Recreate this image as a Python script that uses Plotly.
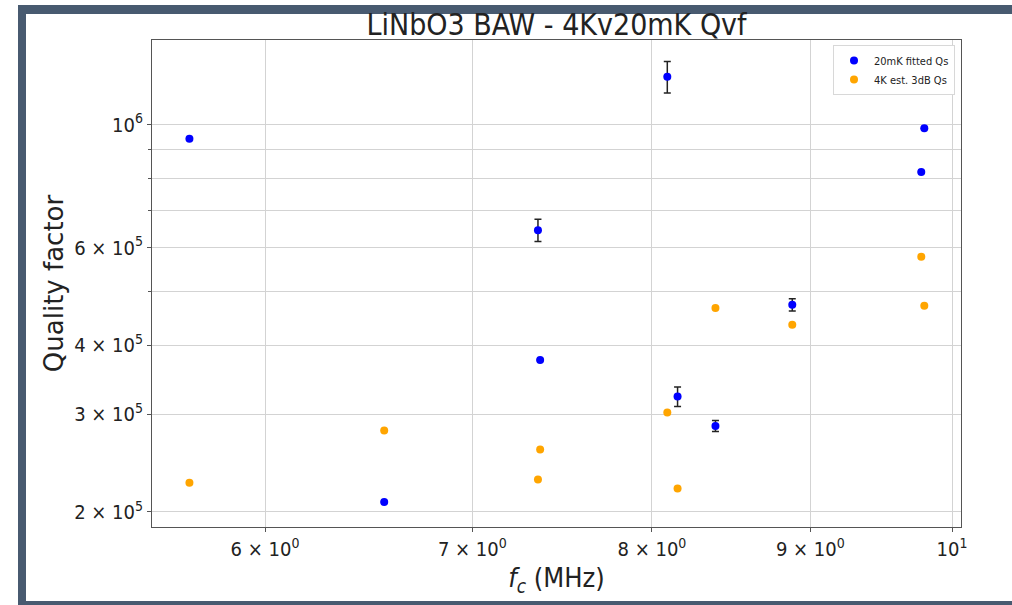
import plotly.graph_objects as go

# Resonance centre frequencies (MHz), shared by both measurement sets
freq_mhz = [5.672, 6.556, 7.350, 7.362, 8.092, 8.154, 8.387, 8.880, 9.774, 9.796]

# 20 mK fitted quality factors and their fit uncertainties (None = no bar)
q_20mk = [9.43e5, 2.085e5, 6.45e5, 3.76e5, 1.22e6, 3.23e5, 2.86e5, 4.73e5, 8.21e5, 9.85e5]
q_20mk_err = [None, None, 3.0e4, None, 8.0e4, 1.3e4, 6.5e3, 1.2e4, None, None]

# 4 K quality factors estimated from the 3 dB bandwidth
q_4k = [2.257e5, 2.807e5, 2.289e5, 2.593e5, 3.025e5, 2.205e5, 4.667e5, 4.354e5, 5.773e5, 4.711e5]

# Axis ticks
x_tickvals = [6, 7, 8, 9, 10]
x_ticktext = ["6 × 10<sup>0</sup>", "7 × 10<sup>0</sup>", "8 × 10<sup>0</sup>",
              "9 × 10<sup>0</sup>", "10<sup>1</sup>"]
y_tickvals = [2e5, 3e5, 4e5, 6e5, 1e6]
y_ticktext = ["2 × 10<sup>5</sup>", "3 × 10<sup>5</sup>", "4 × 10<sup>5</sup>",
              "6 × 10<sup>5</sup>", "10<sup>6</sup>"]
y_minor_tickvals = [5e5, 7e5, 8e5, 9e5]

W, H = 1012, 605
ML, MR, MT, MB = 152, 51, 40, 78
PW, PH = W - ML - MR, H - MT - MB

FONT = "DejaVu Sans Condensed, DejaVu Sans, sans-serif"
FONT_REG = "DejaVu Sans, sans-serif"
FRAME = "#485a70"
GRID = "#d3d3d3"

fig = go.Figure()

fig.add_trace(go.Scatter(
    x=freq_mhz, y=q_20mk, mode="markers", name="20mK fitted Qs",
    marker=dict(color="#0000ff", size=8),
    error_y=dict(type="data", array=q_20mk_err, visible=True,
                 color="#222222", thickness=1.5, width=3.5),
))
fig.add_trace(go.Scatter(
    x=freq_mhz, y=q_4k, mode="markers", name="4K est. 3dB Qs",
    marker=dict(color="#ffa500", size=8),
))


def px_x(px):
    return (px - ML) / PW


def px_y(py):
    return (H - MB - py) / PH


# Slate frame around the figure (top, left, bottom strips)
frame_rects = [
    (18, 5, W, 14),
    (18, 5, 26, H),
    (18, 601, W, H),
]
for x0, y0, x1, y1 in frame_rects:
    fig.add_shape(type="rect", xref="paper", yref="paper",
                  x0=px_x(x0), x1=px_x(x1), y0=px_y(y1), y1=px_y(y0),
                  fillcolor=FRAME, line=dict(width=0), layer="above")

axis_common = dict(
    type="log",
    showline=True, linecolor="#555555", linewidth=1, mirror=True,
    showgrid=True, gridcolor=GRID, gridwidth=1,
    ticks="outside", ticklen=4, tickcolor="#555555",
    zeroline=False,
    tickfont=dict(family=FONT, size=20, color="#222222"),
    tickmode="array",
)

fig.update_layout(
    width=W, height=H,
    margin=dict(l=ML, r=MR, t=MT, b=MB),
    paper_bgcolor="white", plot_bgcolor="white",
    font=dict(family=FONT, color="#222222"),
    title=dict(text="LiNbO3 BAW - 4Kv20mK Qvf", x=(ML + PW / 2) / W, xanchor="center",
               y=1 - 24 / H, yanchor="middle", yref="container",
               font=dict(family=FONT, size=30, color="#222222")),
    xaxis=dict(axis_common, range=[0.74165, 1.0029],
               tickvals=x_tickvals, ticktext=x_ticktext,
               title=dict(text="<i>f<sub>c</sub></i> (MHz)", standoff=8,
                          font=dict(family=FONT, size=27, color="#222222"))),
    yaxis=dict(axis_common, range=[5.2739, 6.1527],
               tickvals=y_tickvals, ticktext=y_ticktext,
               minor=dict(tickmode="array", tickvals=y_minor_tickvals,
                          ticks="outside", ticklen=3, tickcolor="#555555",
                          showgrid=True, gridcolor=GRID, gridwidth=1),
               title=dict(text="Quality factor", standoff=3,
                          font=dict(family=FONT_REG, size=26, color="#222222"))),
    legend=dict(x=px_x(955), y=px_y(45), xanchor="right", yanchor="top",
                bgcolor="white", bordercolor="#d8d8d8", borderwidth=1,
                font=dict(family=FONT, size=11, color="#222222")),
    showlegend=True,
)

fig.write_html("out.html")
